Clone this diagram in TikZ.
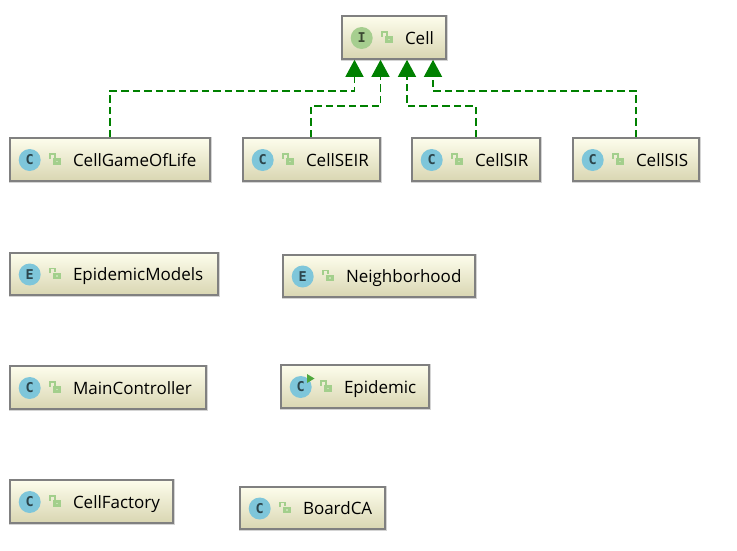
\documentclass[tikz,border=0pt]{standalone}
\usepackage{fontspec}
\setmainfont{Open Sans}
\newfontfamily\iconfont{DejaVu Sans Mono}
\usetikzlibrary{arrows.meta,calc}
\definecolor{boxedge}{HTML}{808080}
\definecolor{boxshade}{HTML}{D4D4D4}
\definecolor{boxtop}{HTML}{FDFDEC}
\definecolor{boxbottom}{HTML}{D9D6B2}
\definecolor{classblue}{HTML}{7EC6DA}
\definecolor{ifacegreen}{HTML}{A6CE8F}
\definecolor{lockgreen}{HTML}{A3CF8C}
\definecolor{arrowgreen}{HTML}{008000}
\definecolor{runnergreen}{HTML}{4FA83D}
\tikzset{
  classbox/.style={draw=boxedge,line width=1.6pt,top color=boxtop,bottom color=boxbottom,
    inner xsep=0pt,inner ysep=0pt,align=left,font=\fontsize{17}{20}\selectfont,text=black},
  iconbadge/.style={circle,fill=#1,minimum size=22pt,inner sep=0pt,
    font=\iconfont\bfseries\fontsize{13.5}{14}\selectfont,text=black!65!#1},
  implements/.style={draw=arrowgreen,line width=1.4pt,dash pattern=on 7.5pt off 4pt,
    -{Triangle[length=17pt,width=18pt,fill=arrowgreen]}},
}
% name, left, top, right, bottom, letter, badge colour, text
\newcommand{\umlclass}[8]{%
  \pgfmathsetmacro{\bw}{#4-#2}%
  \pgfmathsetmacro{\bh}{#5-#3}%
  \pgfmathsetmacro{\bcx}{(#2+#4)/2}%
  \pgfmathsetmacro{\bcy}{(#3+#5)/2}%
  \fill[boxshade] (#2-1.5,#3-1.5) rectangle (#4+2,#5+2);
  \node[classbox,minimum width=\bw pt,minimum height=\bh pt,text width=\bw pt] (#1)
    at (\bcx,\bcy) {\hspace*{63pt}\raisebox{-6.5pt}[0pt][0pt]{#8}};
  \node[iconbadge=#7] (#1-icon) at ($(#1.west)+(20.5,0.5)$) {#6};
  \begin{scope}[shift={($(#1.west)+(40,0)$)}]
    \draw[lockgreen,line width=1.6pt] (1,-1) -- (1,-5.5) -- (5.5,-5.5) -- (5.5,-2);
    \fill[lockgreen] (3.5,-1.5) rectangle (12,5);
    \fill[boxtop!40!lockgreen] (6.5,1) rectangle (9,2.5);
  \end{scope}
}
\begin{document}
\begin{tikzpicture}[x=1pt,y=-1pt]
\useasboundingbox (0,0) rectangle (737,550);
\fill[white] (0,0) rectangle (737,550);

\umlclass{cell}{342}{16}{446}{59}{I}{ifacegreen}{Cell}
\umlclass{cgl}{10}{138}{210}{181}{C}{classblue}{CellGameOfLife}
\umlclass{seir}{243}{138}{380}{181}{C}{classblue}{CellSEIR}
\umlclass{sir}{412}{138}{540}{181}{C}{classblue}{CellSIR}
\umlclass{sis}{573}{138}{699}{181}{C}{classblue}{CellSIS}
\umlclass{models}{10}{253}{218}{295}{E}{classblue}{EpidemicModels}
\umlclass{neigh}{283}{255}{475}{297}{E}{classblue}{Neighborhood}
\umlclass{main}{10}{366}{206}{409}{C}{classblue}{MainController}
\umlclass{epi}{281}{365}{429}{408}{C}{classblue}{Epidemic}
\umlclass{factory}{10}{480}{173}{523}{C}{classblue}{CellFactory}
\umlclass{board}{240}{487}{385}{529}{C}{classblue}{BoardCA}

\fill[runnergreen] (307,374) -- (314.5,378.5) -- (307,383) -- cycle;

\coordinate (j1) at (354.5,91);
\coordinate (j2) at (380.5,106);
\coordinate (j3) at (407,106);
\coordinate (j4) at (433,91);
\draw[implements] (cgl.north) |- (j1) -- (j1 |- cell.south);
\draw[implements] ([xshift=-0.5pt]seir.north) |- (j2) -- (j2 |- cell.south);
\draw[implements] (sir.north) |- (j3) -- (j3 |- cell.south);
\draw[implements] (sis.north) |- (j4) -- (j4 |- cell.south);
\end{tikzpicture}
\end{document}
